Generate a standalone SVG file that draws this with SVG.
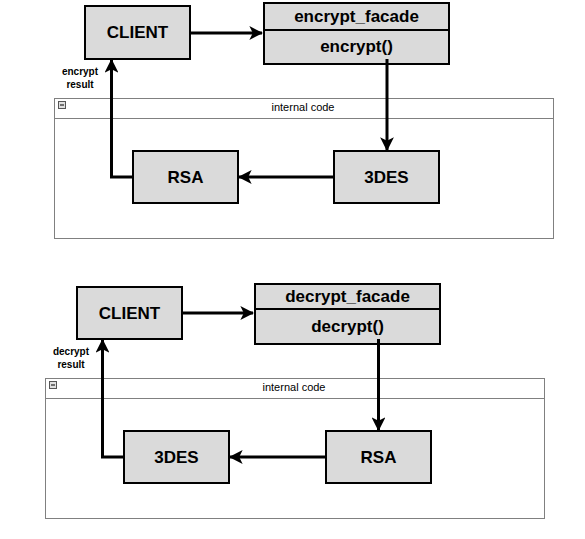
<svg xmlns="http://www.w3.org/2000/svg" width="585" height="539" viewBox="0 0 585 539">
<style>
.box{fill:#dadada;stroke:#000;stroke-width:2}
.cont{fill:#fff;stroke:#808080;stroke-width:1}
.big{font-family:"Liberation Sans",Arial,sans-serif;font-size:17px;font-weight:bold;text-anchor:middle;fill:#000}
.sm{font-family:"Liberation Sans",Arial,sans-serif;font-size:10px;font-weight:bold;text-anchor:middle;fill:#000}
.hdr{font-family:"Liberation Sans",Arial,sans-serif;font-size:11px;text-anchor:middle;fill:#000}
.edge{fill:none;stroke:#000;stroke-width:3}
</style>
<defs>
<marker id="ah" viewBox="0 0 12 12" refX="11" refY="6" markerWidth="4.6" markerHeight="4.6" markerUnits="strokeWidth" orient="auto">
<path d="M0,0 L12,6 L0,12 L3,6 Z" fill="#000"/>
</marker>
<g id="minus">
<rect x="0" y="0" width="7" height="7" fill="#e0e0e0" stroke="#555" stroke-width="1"/>
<line x1="1.5" y1="3.5" x2="5.5" y2="3.5" stroke="#000" stroke-width="1"/>
</g>
</defs>
<rect width="585" height="539" fill="#fff"/>

<!-- containers -->
<g id="internal1">
<rect class="cont" x="54.5" y="98.5" width="499" height="140"/>
<line x1="54.5" y1="118.5" x2="553.5" y2="118.5" stroke="#808080"/>
<use href="#minus" x="58.5" y="101.5"/>
<text class="hdr" x="303" y="111">internal code</text>
</g>
<g id="internal2">
<rect class="cont" x="45.5" y="378.5" width="499" height="140"/>
<line x1="45.5" y1="398.5" x2="544.5" y2="398.5" stroke="#808080"/>
<use href="#minus" x="49.5" y="381.5"/>
<text class="hdr" x="294" y="391">internal code</text>
</g>

<!-- top nodes -->
<g id="client1">
<rect class="box" x="85" y="6" width="105" height="53"/>
<text class="big" x="137.5" y="38">CLIENT</text>
</g>
<g id="encrypt_facade">
<rect class="box" x="264" y="3" width="185" height="61"/>
<line x1="264" y1="30" x2="449" y2="30" stroke="#000" stroke-width="2"/>
<text class="big" x="356.5" y="21.5">encrypt_facade</text>
<text class="big" x="356.5" y="52">encrypt()</text>
</g>
<g id="rsa1">
<rect class="box" x="133" y="151" width="105" height="52"/>
<text class="big" x="185.5" y="183">RSA</text>
</g>
<g id="des1">
<rect class="box" x="334" y="151" width="105" height="52"/>
<text class="big" x="386.5" y="183">3DES</text>
</g>

<!-- bottom nodes -->
<g id="client2">
<rect class="box" x="77" y="287" width="105" height="52"/>
<text class="big" x="129.5" y="319">CLIENT</text>
</g>
<g id="decrypt_facade">
<rect class="box" x="255" y="284" width="185" height="60"/>
<line x1="255" y1="309" x2="440" y2="309" stroke="#000" stroke-width="2"/>
<text class="big" x="347.5" y="302">decrypt_facade</text>
<text class="big" x="347.5" y="332">decrypt()</text>
</g>
<g id="des2">
<rect class="box" x="124" y="431" width="105" height="52"/>
<text class="big" x="176.5" y="463">3DES</text>
</g>
<g id="rsa2">
<rect class="box" x="326" y="431" width="105" height="52"/>
<text class="big" x="378.5" y="463">RSA</text>
</g>

<!-- connectors -->
<g id="connectors">
<path class="edge" d="M190,33 L262,33" marker-end="url(#ah)"/>
<path class="edge" d="M387,59 L387,150" marker-end="url(#ah)"/>
<path class="edge" d="M334,177 L239,177" marker-end="url(#ah)"/>
<path class="edge" d="M133,177 L111.5,177 L111.5,60" marker-end="url(#ah)"/>
<text class="sm" x="80" y="75">encrypt</text>
<text class="sm" x="80" y="88">result</text>

<path class="edge" d="M182,313 L253,313" marker-end="url(#ah)"/>
<path class="edge" d="M378.5,339 L378.5,430" marker-end="url(#ah)"/>
<path class="edge" d="M326,457 L230,457" marker-end="url(#ah)"/>
<path class="edge" d="M124,457 L102.5,457 L102.5,340" marker-end="url(#ah)"/>
<text class="sm" x="71" y="355">decrypt</text>
<text class="sm" x="71" y="368">result</text>
</g>
</svg>
